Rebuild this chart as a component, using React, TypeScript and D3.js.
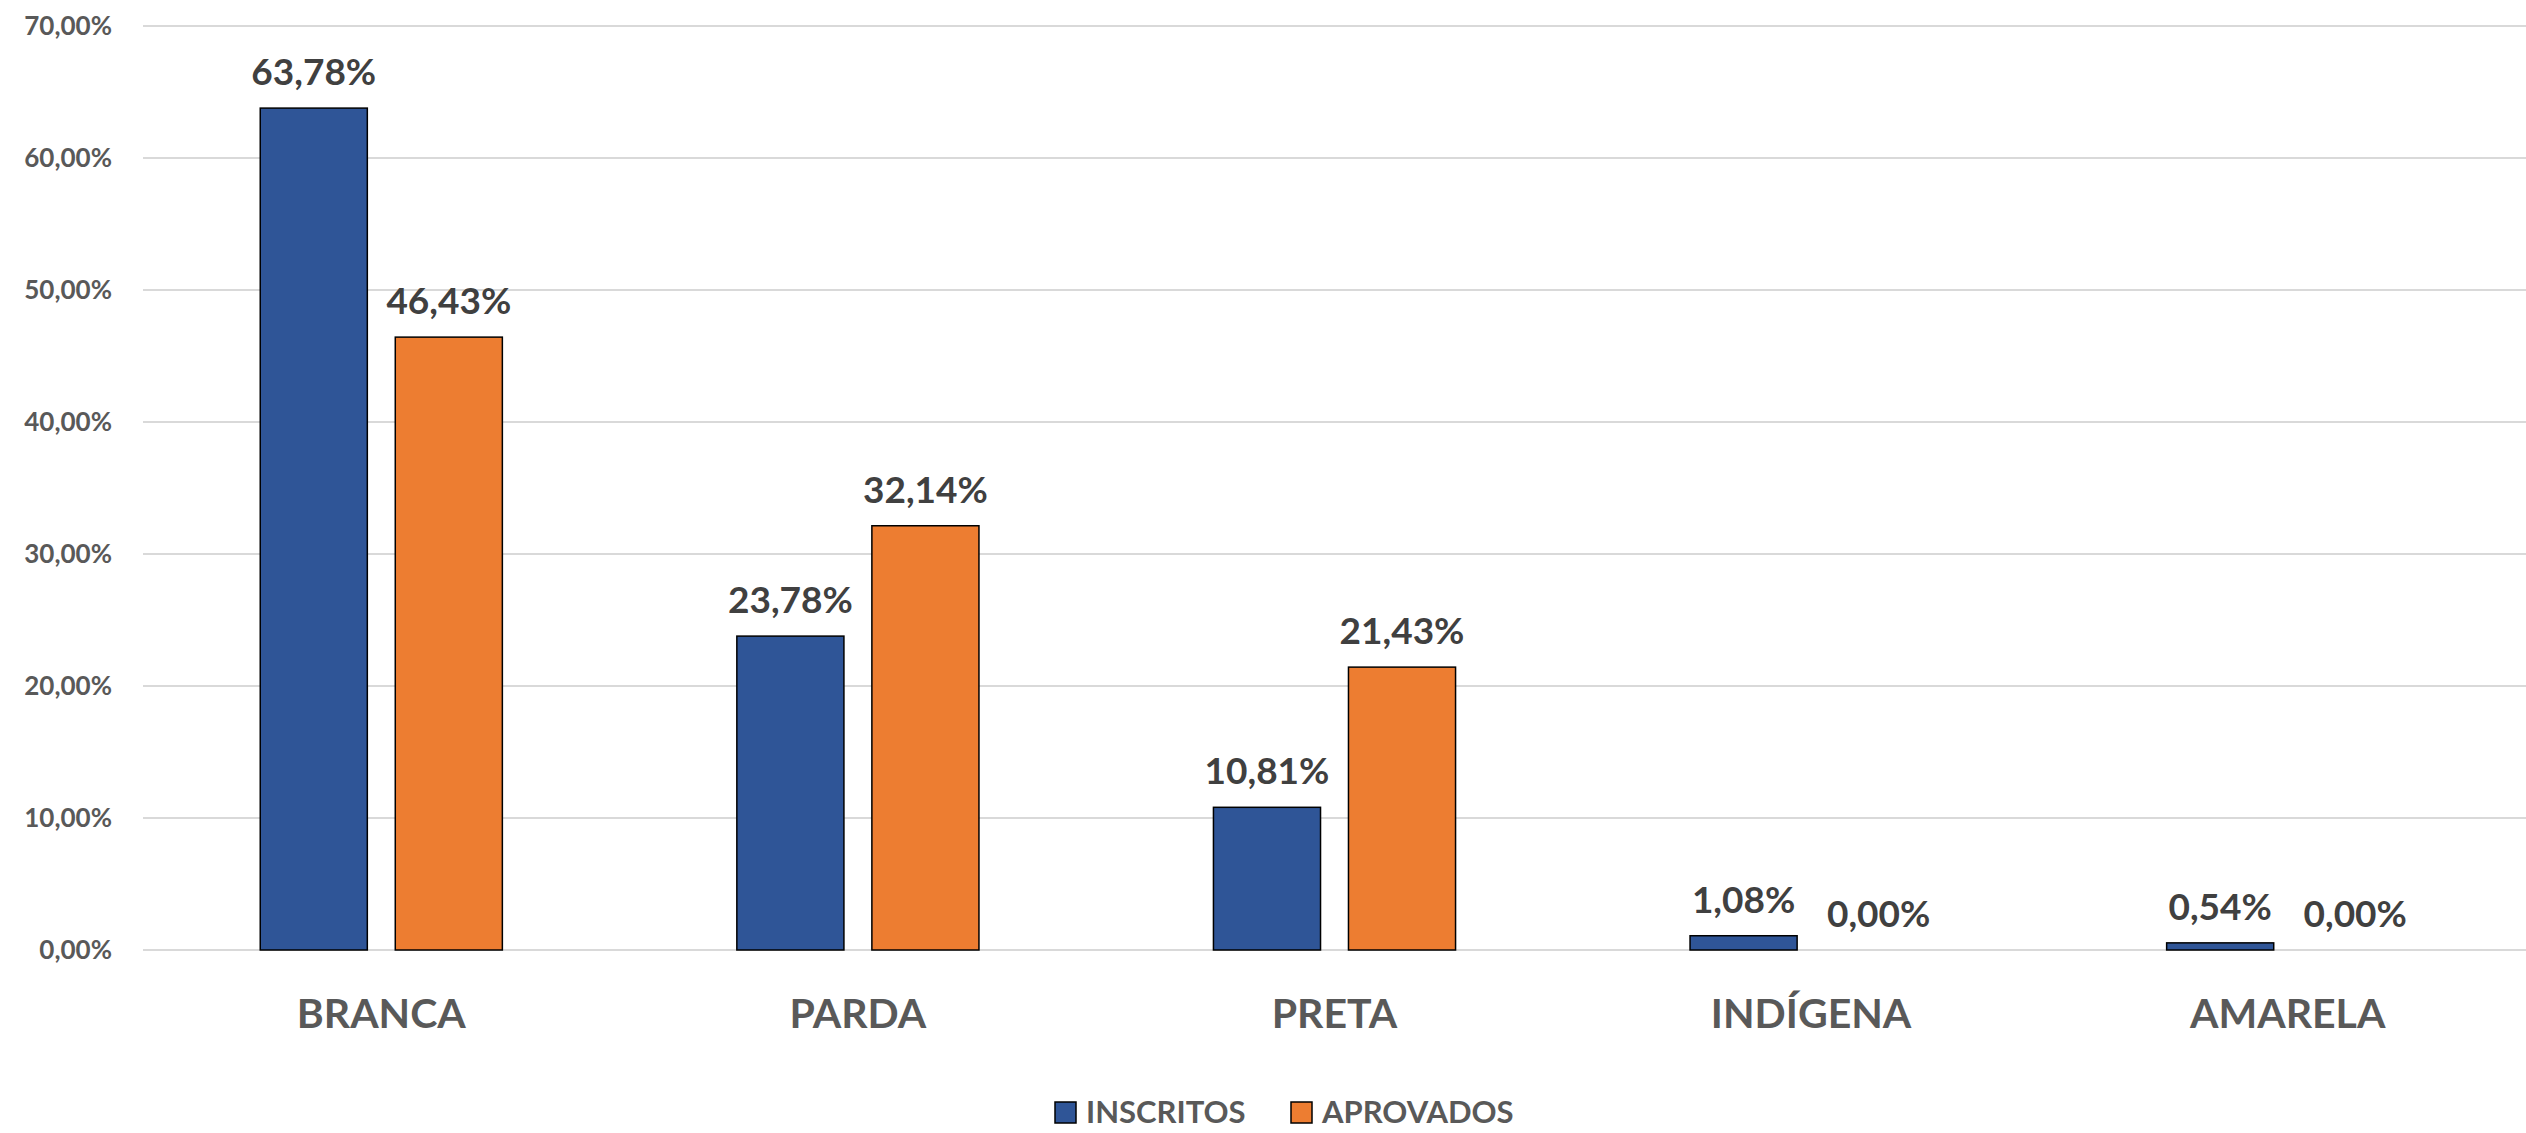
import { useRef, useEffect } from "react";
import * as d3 from "d3";

const categories = ["BRANCA", "PARDA", "PRETA", "INDÍGENA", "AMARELA"];
const seriesNames = ["INSCRITOS", "APROVADOS"];
const inscritos = [63.78, 23.78, 10.81, 1.08, 0.54];
const aprovados = [46.43, 32.14, 21.43, 0, 0];
const yTicks = [0, 10, 20, 30, 40, 50, 60, 70];
const colors = ["#2F5597", "#ED7D31"];

const W = 2526;
const H = 1133;
const FONT = "Lato, 'Open Sans', sans-serif";

const ptBR = d3.formatLocale({
  decimal: ",",
  thousands: ".",
  grouping: [3],
  currency: ["R$", ""],
});
const fmt = (v: number) => ptBR.format(".2f")(v) + "%";

const App = () => {
  const ref = useRef<SVGSVGElement>(null);

  useEffect(() => {
    if (!ref.current) return;
    const svg = d3.select(ref.current);
    svg.selectAll("*").remove();

    const left = 143;
    const right = W;
    const top = 26;
    const bottom = 950;

    const x0 = d3.scaleBand<string>().domain(categories).range([left, right]);
    const bw = x0.bandwidth();
    const groupW = bw * 0.508;
    const x1 = d3
      .scaleBand<string>()
      .domain(seriesNames)
      .range([(bw - groupW) / 2, (bw + groupW) / 2])
      .paddingInner(0.207);
    const y = d3.scaleLinear().domain([0, 70]).range([bottom, top]);

    // gridlines
    svg
      .append("g")
      .selectAll("line")
      .data(yTicks)
      .join("line")
      .attr("x1", left)
      .attr("x2", right)
      .attr("y1", (d) => y(d))
      .attr("y2", (d) => y(d))
      .attr("stroke", "#d9d9d9")
      .attr("stroke-width", 2);

    // y tick labels
    svg
      .append("g")
      .selectAll("text")
      .data(yTicks)
      .join("text")
      .attr("x", 112)
      .attr("y", (d) => y(d))
      .attr("dy", "0.35em")
      .attr("text-anchor", "end")
      .attr("font-family", FONT)
      .attr("font-weight", "bold")
      .attr("font-size", 26)
      .attr("fill", "#595959")
      .text((d) => fmt(d));

    const rows = categories.map((c, i) => ({
      cat: c,
      values: [
        { s: seriesNames[0], v: inscritos[i], idx: 0 },
        { s: seriesNames[1], v: aprovados[i], idx: 1 },
      ],
    }));

    const groups = svg
      .append("g")
      .selectAll("g")
      .data(rows)
      .join("g")
      .attr("transform", (d) => `translate(${x0(d.cat)},0)`);

    groups
      .selectAll("rect")
      .data((d) => d.values.filter((e) => e.v > 0))
      .join("rect")
      .attr("x", (d) => x1(d.s)!)
      .attr("y", (d) => y(d.v))
      .attr("width", x1.bandwidth())
      .attr("height", (d) => bottom - y(d.v))
      .attr("fill", (d) => colors[d.idx])
      .attr("stroke", "#000")
      .attr("stroke-width", 1.5);

    groups
      .selectAll("text")
      .data((d) => d.values)
      .join("text")
      .attr("x", (d) => x1(d.s)! + x1.bandwidth() / 2)
      .attr("y", (d) => y(d.v) - 23)
      .attr("text-anchor", "middle")
      .attr("font-family", FONT)
      .attr("font-weight", "bold")
      .attr("font-size", 37)
      .attr("fill", "#404040")
      .text((d) => fmt(d.v));

    // category labels
    svg
      .append("g")
      .selectAll("text")
      .data(categories)
      .join("text")
      .attr("x", (d) => x0(d)! + bw / 2)
      .attr("y", 1028)
      .attr("text-anchor", "middle")
      .attr("font-family", FONT)
      .attr("font-weight", "bold")
      .attr("font-size", 41)
      .attr("fill", "#595959")
      .text((d) => d);

    // legend
    const legendX = [1055, 1291];
    const leg = svg
      .append("g")
      .selectAll("g")
      .data(seriesNames)
      .join("g")
      .attr("transform", (d, i) => `translate(${legendX[i]},1102)`);
    leg
      .append("rect")
      .attr("width", 21)
      .attr("height", 21)
      .attr("fill", (d, i) => colors[i])
      .attr("stroke", "#000")
      .attr("stroke-width", 1.5);
    leg
      .append("text")
      .attr("x", 31)
      .attr("y", 21)
      .attr("font-family", FONT)
      .attr("font-weight", "bold")
      .attr("font-size", 31)
      .attr("fill", "#595959")
      .text((d) => d);
  }, []);

  return (
    <svg
      ref={ref}
      width={W}
      height={H}
      style={{ position: "absolute", left: 0, top: 0, background: "#fff" }}
    ></svg>
  );
};

export default App;
